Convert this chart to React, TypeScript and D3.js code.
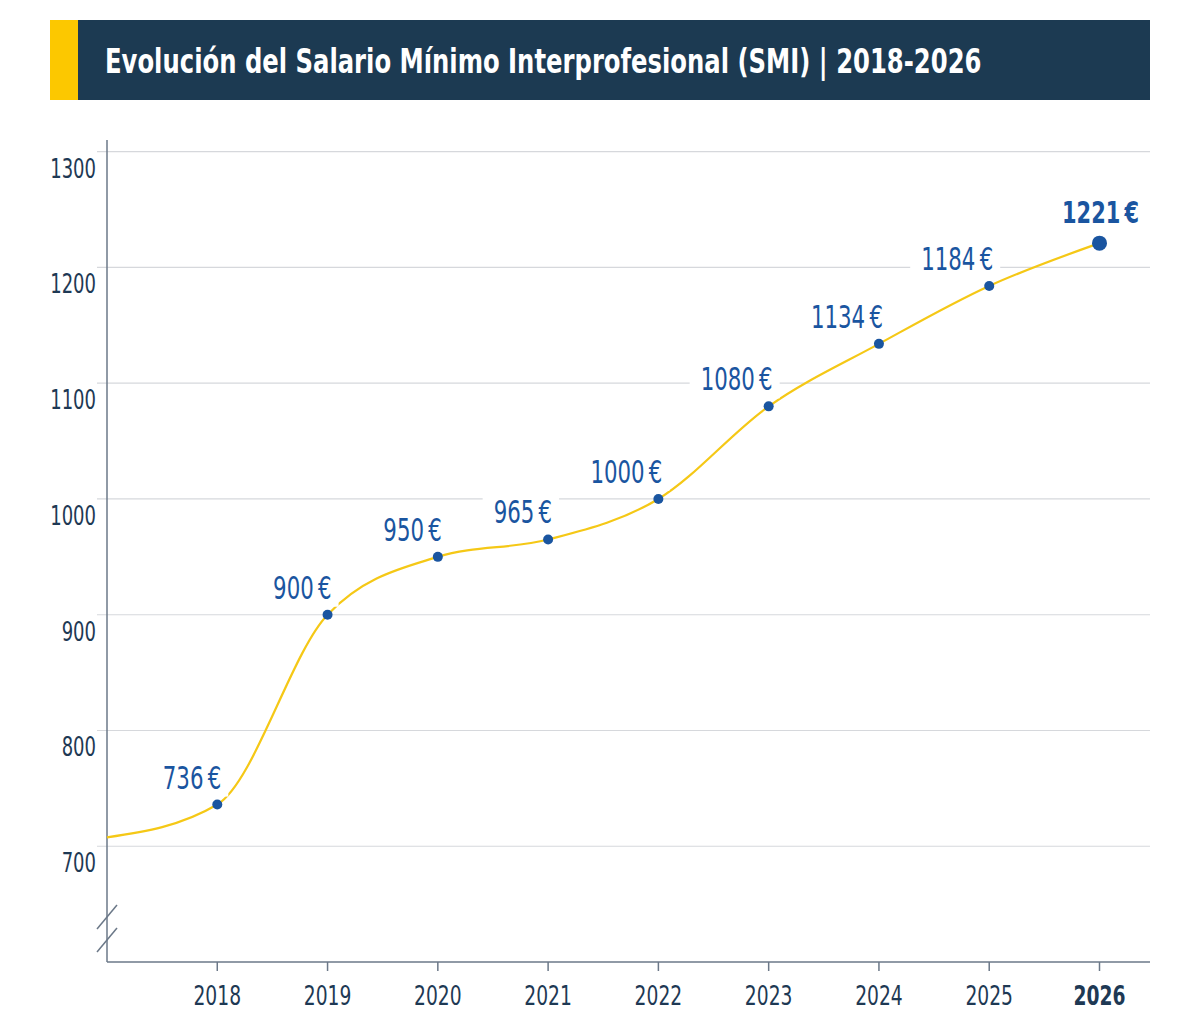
import React, { useEffect, useRef } from 'react';
import * as d3 from 'd3';

// Data
const years = [2018, 2019, 2020, 2021, 2022, 2023, 2024, 2025, 2026];
const smi = [736, 900, 950, 965, 1000, 1080, 1134, 1184, 1221];
// value the line starts from (2017), drawn without a marker
const startYear = 2017;
const startValue = 707.7;
const yTicks = [700, 800, 900, 1000, 1100, 1200, 1300];

const TITLE = 'Evolución del Salario Mínimo Interprofesional (SMI) | 2018-2026';
const FONT = '"DejaVu Sans Condensed", "DejaVu Sans", sans-serif';

const NAVY = '#1c3a52';
const YELLOW = '#fcc800';
const LINE = '#f5c816';
const BLUE = '#1a55a0';
const TEXT = '#1e3954';
const GRID = '#d6d8dc';
const AXIS = '#6b7888';

// squeeze text horizontally (no condensed font available)
function squeeze(sel: d3.Selection<SVGTextElement, any, any, any>, factor: number) {
  sel.each(function () {
    const w = this.getComputedTextLength();
    d3.select(this).attr('textLength', w * factor).attr('lengthAdjust', 'spacingAndGlyphs');
  });
}

export default function App() {
  const svgRef = useRef<SVGSVGElement>(null);

  useEffect(() => {
    if (!svgRef.current) return;
    const svg = d3.select(svgRef.current);
    svg.selectAll('*').remove();

    const width = 1200;
    const height = 1026;
    svg.attr('width', width).attr('height', height);

    // Header
    svg.append('rect').attr('x', 50).attr('y', 20).attr('width', 1100).attr('height', 80).attr('fill', NAVY);
    svg.append('rect').attr('x', 50).attr('y', 20).attr('width', 28).attr('height', 80).attr('fill', YELLOW);
    const title = svg
      .append('text')
      .attr('x', 0)
      .attr('y', 0)
      .attr('fill', '#ffffff')
      .attr('font-family', FONT)
      .attr('font-weight', 700)
      .attr('font-size', 34)
      .text(TITLE);
    const tw = (title.node() as SVGTextElement).getComputedTextLength();
    title.attr('transform', `translate(105,73) scale(${877 / tw},1)`);

    // Scales
    const x = d3.scaleLinear().domain([2017, 2026]).range([107, 1099.5]);
    const y = d3.scaleLinear().domain([600, 1300]).range([962, 151.7]);

    const left = 107;
    const right = 1150;

    // Gridlines
    svg
      .append('g')
      .selectAll('line')
      .data(yTicks)
      .enter()
      .append('line')
      .attr('x1', 97)
      .attr('x2', right)
      .attr('y1', (d) => y(d))
      .attr('y2', (d) => y(d))
      .attr('stroke', GRID)
      .attr('stroke-width', 1.2);

    // Y tick labels (below gridline)
    const yLabels = svg
      .append('g')
      .selectAll('text')
      .data(yTicks)
      .enter()
      .append('text')
      .attr('x', 96)
      .attr('y', (d) => y(d) + 26)
      .attr('text-anchor', 'end')
      .attr('fill', TEXT)
      .attr('font-family', FONT)
      .attr('font-size', 26)
      .text((d) => d);
    squeeze(yLabels as any, 0.77);

    // Axes lines
    svg.append('line').attr('x1', left).attr('x2', left).attr('y1', 140).attr('y2', 962).attr('stroke', AXIS).attr('stroke-width', 1.5);
    svg.append('line').attr('x1', left).attr('x2', right).attr('y1', 962).attr('y2', 962).attr('stroke', AXIS).attr('stroke-width', 1.5);

    // Axis break marks
    [[929, 905], [952, 928]].forEach(([y1, y2]) => {
      svg
        .append('line')
        .attr('x1', 97)
        .attr('y1', y1)
        .attr('x2', 117)
        .attr('y2', y2)
        .attr('stroke', AXIS)
        .attr('stroke-width', 1.5);
    });

    // X ticks
    const xAxis = svg.append('g');
    xAxis
      .selectAll('line')
      .data(years)
      .enter()
      .append('line')
      .attr('x1', (d) => x(d))
      .attr('x2', (d) => x(d))
      .attr('y1', 962)
      .attr('y2', 971)
      .attr('stroke', AXIS)
      .attr('stroke-width', 1.5);
    const xLabels = xAxis
      .selectAll('text')
      .data(years)
      .enter()
      .append('text')
      .attr('x', (d) => x(d))
      .attr('y', 1005)
      .attr('text-anchor', 'middle')
      .attr('fill', TEXT)
      .attr('font-family', FONT)
      .attr('font-size', 26)
      .attr('font-weight', (d, i) => (i === years.length - 1 ? 700 : 400))
      .text((d) => d);
    squeeze(xLabels as any, 0.8);

    // Line
    const pts: [number, number][] = [[startYear, startValue], ...years.map((yr, i) => [yr, smi[i]] as [number, number])];
    const line = d3
      .line<[number, number]>()
      .x((d) => x(d[0]))
      .y((d) => y(d[1]))
      .curve(d3.curveMonotoneX);
    svg
      .append('path')
      .attr('d', line(pts))
      .attr('fill', 'none')
      .attr('stroke', LINE)
      .attr('stroke-width', 2.2);

    // Labels with white boxes
    const last = years.length - 1;
    const labels = svg.append('g');
    years.forEach((yr, i) => {
      const px = x(yr);
      const py = y(smi[i]);
      const isLast = i === last;
      const t = labels
        .append('text')
        .attr('x', isLast ? px + 1 : px + 4)
        .attr('y', isLast ? py - 20 : py - 16)
        .attr('text-anchor', isLast ? 'middle' : 'end')
        .attr('fill', BLUE)
        .attr('font-family', FONT)
        .attr('font-size', isLast ? 31 : 32)
        .attr('font-weight', isLast ? 700 : 400)
        .text(`${smi[i]}\u2009€`);
      squeeze(t as any, isLast ? 0.75 : 0.74);
      const bb = (t.node() as SVGTextElement).getBBox();
      labels
        .insert('rect', () => t.node() as SVGTextElement)
        .attr('x', bb.x - 11)
        .attr('y', bb.y)
        .attr('width', bb.width + 18)
        .attr('height', bb.height)
        .attr('fill', '#ffffff');
    });

    // Points
    svg
      .append('g')
      .selectAll('circle')
      .data(years)
      .enter()
      .append('circle')
      .attr('cx', (d) => x(d))
      .attr('cy', (d, i) => y(smi[i]))
      .attr('r', (d, i) => (i === last ? 7.5 : 5))
      .attr('fill', BLUE);
  }, []);

  return (
    <div style={{ position: 'absolute', left: 0, top: 0, background: '#fff' }}>
      <svg ref={svgRef} style={{ display: 'block' }}></svg>
    </div>
  );
}
